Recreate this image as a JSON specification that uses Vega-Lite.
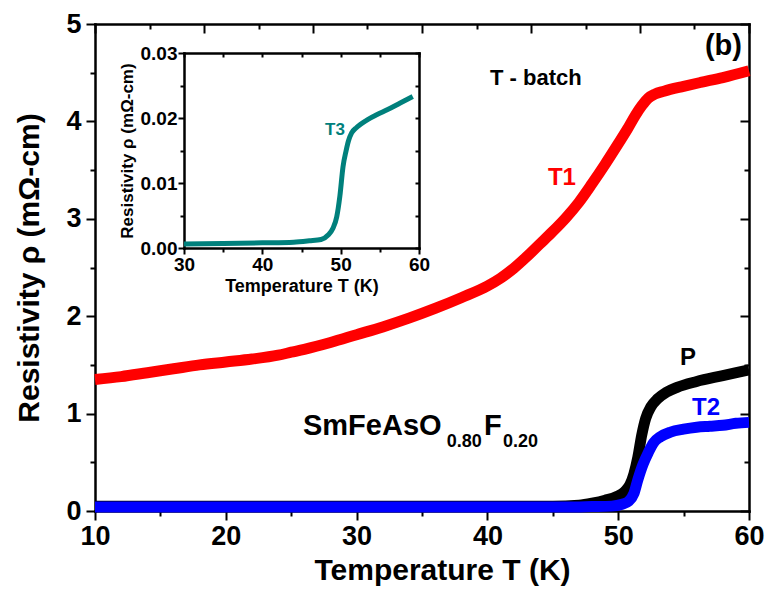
{
  "$schema": "https://vega.github.io/schema/vega-lite/v6.json",
  "width": 654,
  "height": 487,
  "autosize": {"type": "none"},
  "padding": {"left": 95, "top": 24, "right": 18, "bottom": 78},
  "background": "white",
  "config": {
    "font": "Liberation Sans",
    "view": {"stroke": null},
    "axis": {
      "grid": false,
      "domainColor": "#000000",
      "domainWidth": 2.5,
      "domainCap": "square",
      "tickColor": "#000000",
      "tickWidth": 2,
      "labelColor": "#000000",
      "titleColor": "#000000",
      "labelFont": "Liberation Sans",
      "titleFont": "Liberation Sans",
      "labelFontWeight": "bold",
      "titleFontWeight": "bold",
      "labelFlush": false,
      "labelOverlap": false,
      "labelBound": false
    },
    "text": {"font": "Liberation Sans", "fontWeight": "bold"}
  },
  "datasets": {
    "t1": [
      {"T": 10, "rho": 1.35}, {"T": 12, "rho": 1.38}, {"T": 14, "rho": 1.42}, {"T": 16, "rho": 1.46},
      {"T": 18, "rho": 1.5}, {"T": 20, "rho": 1.53}, {"T": 22, "rho": 1.56}, {"T": 24, "rho": 1.6},
      {"T": 25, "rho": 1.63}, {"T": 26, "rho": 1.66}, {"T": 28, "rho": 1.73}, {"T": 30, "rho": 1.81},
      {"T": 32, "rho": 1.89}, {"T": 34, "rho": 1.98}, {"T": 36, "rho": 2.08}, {"T": 38, "rho": 2.19},
      {"T": 40, "rho": 2.31}, {"T": 41, "rho": 2.39}, {"T": 42, "rho": 2.49}, {"T": 43, "rho": 2.61},
      {"T": 44, "rho": 2.74}, {"T": 45, "rho": 2.87}, {"T": 46, "rho": 3.01}, {"T": 47, "rho": 3.17},
      {"T": 48, "rho": 3.36}, {"T": 49, "rho": 3.56}, {"T": 50, "rho": 3.77}, {"T": 50.7, "rho": 3.92},
      {"T": 51.3, "rho": 4.06}, {"T": 51.8, "rho": 4.16}, {"T": 52.3, "rho": 4.24}, {"T": 52.8, "rho": 4.28},
      {"T": 53.5, "rho": 4.31}, {"T": 55, "rho": 4.36}, {"T": 56.3, "rho": 4.4}, {"T": 58, "rho": 4.45},
      {"T": 60, "rho": 4.52}
    ],
    "p": [
      {"T": 10, "rho": 0.05}, {"T": 20, "rho": 0.05}, {"T": 30, "rho": 0.05}, {"T": 40, "rho": 0.05},
      {"T": 45, "rho": 0.05}, {"T": 47, "rho": 0.06}, {"T": 48, "rho": 0.08}, {"T": 49, "rho": 0.11},
      {"T": 49.9, "rho": 0.15}, {"T": 50.5, "rho": 0.2}, {"T": 50.9, "rho": 0.27}, {"T": 51.2, "rho": 0.38},
      {"T": 51.5, "rho": 0.55}, {"T": 51.8, "rho": 0.78}, {"T": 52.1, "rho": 0.95}, {"T": 52.5, "rho": 1.07},
      {"T": 53, "rho": 1.15}, {"T": 53.7, "rho": 1.22}, {"T": 54.5, "rho": 1.27}, {"T": 56, "rho": 1.33},
      {"T": 58, "rho": 1.39}, {"T": 60, "rho": 1.45}
    ],
    "t2": [
      {"T": 10, "rho": 0.04}, {"T": 20, "rho": 0.04}, {"T": 30, "rho": 0.04}, {"T": 40, "rho": 0.04},
      {"T": 46, "rho": 0.04}, {"T": 48, "rho": 0.045}, {"T": 49.5, "rho": 0.05}, {"T": 50.3, "rho": 0.07},
      {"T": 50.8, "rho": 0.1}, {"T": 51.2, "rho": 0.18}, {"T": 51.5, "rho": 0.32}, {"T": 51.9, "rho": 0.48},
      {"T": 52.3, "rho": 0.6}, {"T": 52.7, "rho": 0.7}, {"T": 53.2, "rho": 0.76}, {"T": 54, "rho": 0.81},
      {"T": 55, "rho": 0.84}, {"T": 56, "rho": 0.86}, {"T": 57, "rho": 0.87}, {"T": 58, "rho": 0.88},
      {"T": 59, "rho": 0.9}, {"T": 60, "rho": 0.91}
    ],
    "t3": [
      {"T": 30, "rho": 0.0006}, {"T": 35, "rho": 0.0007}, {"T": 40, "rho": 0.0008}, {"T": 44, "rho": 0.0009},
      {"T": 46, "rho": 0.0011}, {"T": 47.5, "rho": 0.0013}, {"T": 48.4, "rho": 0.002}, {"T": 49, "rho": 0.003},
      {"T": 49.5, "rho": 0.0048}, {"T": 49.9, "rho": 0.008}, {"T": 50.3, "rho": 0.0125}, {"T": 50.7, "rho": 0.015},
      {"T": 51, "rho": 0.0165}, {"T": 51.4, "rho": 0.0177}, {"T": 52, "rho": 0.0185}, {"T": 52.5, "rho": 0.019},
      {"T": 53.5, "rho": 0.0198}, {"T": 54.6, "rho": 0.0205}, {"T": 56, "rho": 0.0213}, {"T": 57.6, "rho": 0.0223},
      {"T": 59.2, "rho": 0.0233}
    ]
  },
  "layer": [
    {
      "layer": [
        {
          "data": {"name": "t1"},
          "mark": {"type": "line", "color": "#ff0000", "strokeWidth": 11, "interpolate": "monotone"},
          "encoding": {
            "x": {
              "field": "T", "type": "quantitative",
              "scale": {"domain": [10, 60], "nice": false, "zero": false},
              "axis": {
                "orient": "bottom",
                "values": [10, 15, 20, 25, 30, 35, 40, 45, 50, 55, 60],
                "tickSize": {"condition": {"test": "datum.value % 10 === 0", "value": 9}, "value": 5},
                "labelExpr": "datum.value % 10 === 0 ? format(datum.value, 'd') : ''",
                "labelFontSize": 27,
                "labelPadding": 3,
                "title": "Temperature T (K)",
                "titleFontSize": 30,
                "titlePadding": 6,
                "titleX": 347
              }
            },
            "y": {
              "field": "rho", "type": "quantitative",
              "scale": {"domain": [0, 5], "nice": false, "zero": false},
              "axis": {
                "orient": "left",
                "values": [0, 0.5, 1, 1.5, 2, 2.5, 3, 3.5, 4, 4.5, 5],
                "tickSize": {"condition": {"test": "datum.value % 1 === 0", "value": 9}, "value": 5},
                "labelExpr": "datum.value % 1 === 0 ? format(datum.value, 'd') : ''",
                "labelFontSize": 27,
                "labelPadding": 5,
                "title": "Resistivity ρ (mΩ-cm)",
                "titleFontSize": 30,
                "titlePadding": 21
              }
            }
          }
        },
        {
          "data": {"name": "p"},
          "mark": {"type": "line", "color": "#000000", "strokeWidth": 11, "interpolate": "monotone"},
          "encoding": {
            "x": {
              "field": "T", "type": "quantitative",
              "axis": {
                "orient": "top",
                "values": [10, 14.1666667, 18.3333333, 22.5, 26.6666667, 30.8333333, 35, 39.1666667, 43.3333333, 47.5, 51.6666667, 55.8333333, 60],
                "tickSize": {"condition": {"test": "round((datum.value - 10) * 0.24) % 2 === 0", "value": -9}, "value": -5},
                "labels": false,
                "title": null
              }
            },
            "y": {
              "field": "rho", "type": "quantitative",
              "axis": {
                "orient": "right",
                "values": [0, 0.5, 1, 1.5, 2, 2.5, 3, 3.5, 4, 4.5, 5],
                "tickSize": {"condition": {"test": "datum.value % 1 === 0", "value": -9}, "value": -5},
                "labels": false,
                "title": null
              }
            }
          }
        },
        {
          "data": {"name": "t2"},
          "mark": {"type": "line", "color": "#0000ff", "strokeWidth": 11, "interpolate": "monotone"},
          "encoding": {
            "x": {"field": "T", "type": "quantitative", "axis": null},
            "y": {"field": "rho", "type": "quantitative", "axis": null}
          }
        },
        {
          "data": {"values": [{"T": 59.46, "rho": 4.68, "label": "(b)"}]},
          "mark": {"type": "text", "align": "right", "baseline": "alphabetic", "fontSize": 29, "color": "#000000"},
          "encoding": {
            "x": {"field": "T", "type": "quantitative", "axis": null},
            "y": {"field": "rho", "type": "quantitative", "axis": null},
            "text": {"field": "label"}
          }
        },
        {
          "data": {"values": [{"T": 40.2, "rho": 4.37, "label": "T - batch"}]},
          "mark": {"type": "text", "align": "left", "baseline": "alphabetic", "fontSize": 22, "color": "#000000"},
          "encoding": {
            "x": {"field": "T", "type": "quantitative", "axis": null},
            "y": {"field": "rho", "type": "quantitative", "axis": null},
            "text": {"field": "label"}
          }
        },
        {
          "data": {"values": [{"T": 44.63, "rho": 3.35, "label": "T1"}]},
          "mark": {"type": "text", "align": "left", "baseline": "alphabetic", "fontSize": 24, "color": "#ff0000"},
          "encoding": {
            "x": {"field": "T", "type": "quantitative", "axis": null},
            "y": {"field": "rho", "type": "quantitative", "axis": null},
            "text": {"field": "label"}
          }
        },
        {
          "data": {"values": [{"T": 54.72, "rho": 1.5, "label": "P"}]},
          "mark": {"type": "text", "align": "left", "baseline": "alphabetic", "fontSize": 24, "color": "#000000"},
          "encoding": {
            "x": {"field": "T", "type": "quantitative", "axis": null},
            "y": {"field": "rho", "type": "quantitative", "axis": null},
            "text": {"field": "label"}
          }
        },
        {
          "data": {"values": [{"T": 55.64, "rho": 0.99, "label": "T2"}]},
          "mark": {"type": "text", "align": "left", "baseline": "alphabetic", "fontSize": 24, "color": "#0000ff"},
          "encoding": {
            "x": {"field": "T", "type": "quantitative", "axis": null},
            "y": {"field": "rho", "type": "quantitative", "axis": null},
            "text": {"field": "label"}
          }
        },
        {
          "data": {"values": [{"T": 25.9, "rho": 0.78, "label": "SmFeAsO"}, {"T": 39.74, "rho": 0.78, "label": "F"}]},
          "mark": {"type": "text", "align": "left", "baseline": "alphabetic", "fontSize": 29, "color": "#000000"},
          "encoding": {
            "x": {"field": "T", "type": "quantitative", "axis": null},
            "y": {"field": "rho", "type": "quantitative", "axis": null},
            "text": {"field": "label"}
          }
        },
        {
          "data": {"values": [{"T": 36.9, "rho": 0.66, "label": "0.80"}, {"T": 41.2, "rho": 0.66, "label": "0.20"}]},
          "mark": {"type": "text", "align": "left", "baseline": "alphabetic", "fontSize": 18, "color": "#000000"},
          "encoding": {
            "x": {"field": "T", "type": "quantitative", "axis": null},
            "y": {"field": "rho", "type": "quantitative", "axis": null},
            "text": {"field": "label"}
          }
        }
      ],
      "resolve": {"axis": {"x": "independent", "y": "independent"}}
    },
    {
      "layer": [
        {
          "data": {"name": "t3"},
          "mark": {"type": "line", "color": "#00807c", "strokeWidth": 5, "interpolate": "monotone"},
          "encoding": {
            "x": {
              "field": "T", "type": "quantitative",
              "scale": {"domain": [30, 60], "range": [89, 324], "nice": false, "zero": false},
              "axis": {
                "orient": "bottom",
                "offset": -263,
                "values": [30, 35, 40, 45, 50, 55, 60],
                "tickSize": {"condition": {"test": "datum.value % 10 === 0", "value": 6}, "value": 4},
                "labelExpr": "datum.value % 10 === 0 ? format(datum.value, 'd') : ''",
                "labelFontSize": 19,
                "labelPadding": 1,
                "title": "Temperature T (K)",
                "titleFontSize": 18,
                "titlePadding": 3
              }
            },
            "y": {
              "field": "rho", "type": "quantitative",
              "scale": {"domain": [0, 0.03], "range": [224, 29], "nice": false, "zero": false},
              "axis": {
                "orient": "left",
                "offset": -89,
                "values": [0, 0.005, 0.01, 0.015, 0.02, 0.025, 0.03],
                "tickSize": {"condition": {"test": "round(datum.value * 1000) % 10 === 0", "value": 6}, "value": 4},
                "labelExpr": "round(datum.value * 1000) % 10 === 0 ? format(datum.value, '.2f') : ''",
                "labelFontSize": 19,
                "labelPadding": 1,
                "title": "Resistivity ρ (mΩ-cm)",
                "titleFontSize": 17,
                "titlePadding": 4
              }
            }
          }
        },
        {
          "data": {"values": [{"T": 48.0, "rho": 0.01738, "label": "T3"}]},
          "mark": {"type": "text", "align": "left", "baseline": "alphabetic", "fontSize": 17, "color": "#00807c"},
          "encoding": {
            "x": {
              "field": "T", "type": "quantitative",
              "axis": {
                "orient": "top",
                "offset": -29,
                "values": [30, 35, 40, 45, 50, 55, 60],
                "tickSize": -4,
                "labels": false,
                "title": null
              }
            },
            "y": {
              "field": "rho", "type": "quantitative",
              "axis": {
                "orient": "right",
                "offset": -330,
                "values": [0, 0.005, 0.01, 0.015, 0.02, 0.025, 0.03],
                "tickSize": -4,
                "labels": false,
                "title": null
              }
            },
            "text": {"field": "label"}
          }
        }
      ],
      "resolve": {"axis": {"x": "independent", "y": "independent"}}
    }
  ],
  "resolve": {"scale": {"x": "independent", "y": "independent"}}
}
